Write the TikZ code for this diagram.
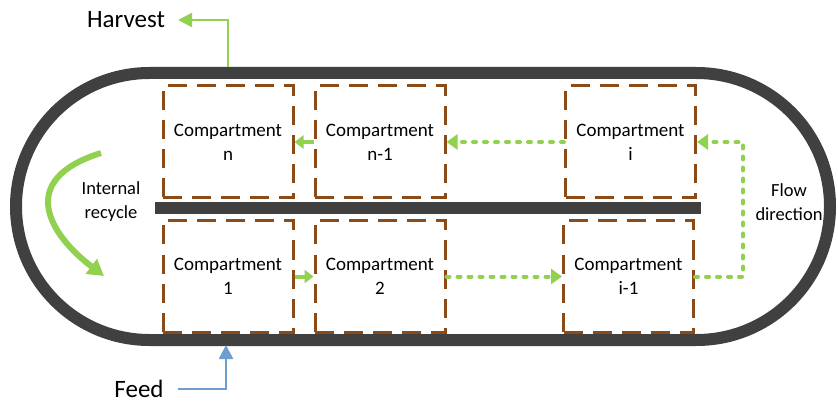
\documentclass[tikz,border=0pt]{standalone}
\usepackage{fontspec}
\setmainfont{Carlito}
\usetikzlibrary{arrows.meta}
\definecolor{tankgrey}{RGB}{64,64,64}
\definecolor{wallbrown}{RGB}{140,75,22}
\definecolor{flowgreen}{RGB}{146,208,80}
\definecolor{feedblue}{RGB}{110,158,206}
\begin{document}
\begin{tikzpicture}[x=1pt, y=-1pt,
    comp/.style={draw=wallbrown, line width=3pt, dash pattern=on 19pt off 10pt,
      minimum width=130pt, minimum height=112pt, align=center,
      font=\fontsize{19}{24}\selectfont},
    lbl/.style={align=center, font=\fontsize{18.5}{24}\selectfont},
    big/.style={font=\fontsize{25}{30}\selectfont},
    stepflow/.style={flowgreen, line width=4pt, -{Triangle[length=9pt,width=13pt]}},
    dotflow/.style={flowgreen, line width=4pt, line cap=round, dash pattern=on 3pt off 8pt,
      -{Triangle[length=11pt,width=15pt]}}]
      \useasboundingbox (0, 0) rectangle (838, 406) ;
    %--- Reactor
      \draw[tankgrey, line width=12pt, rounded corners=133.5pt] (16, 73) rectangle (830, 340) ;
      \fill[tankgrey] (155, 202) rectangle (701, 214) ;
    %--- Compartments
      \node[comp] (cn)   at (228, 142)   {Compartment\\n} ;
      \node[comp] (cnm)  at (380, 142)   {Compartment\\n-1} ;
      \node[comp] (ci)   at (630.5, 142) {Compartment\\i} ;
      \node[comp] (c1)   at (228, 276.5) {Compartment\\1} ;
      \node[comp] (c2)   at (380, 276.5) {Compartment\\2} ;
      \node[comp] (cim)  at (628.5, 276.5) {Compartment\\i-1} ;
    %--- Labels
      \node[big, inner xsep=13pt] (harvest) at (126, 20) {Harvest} ;
      \node[big, inner xsep=14pt] (feed) at (139, 389) {Feed} ;
      \node[lbl] (recycle) at (111, 202) {Internal\\recycle} ;
      \node[lbl] (flowdir) at (789, 202) {Flow\\direction} ;
      \coordinate (harvestout) at (228, 67) ;
      \coordinate (feedin) at (226, 345) ;
      \coordinate (loop) at (743, 0) ;
      \coordinate (recyclein) at (101, 153) ;
      \coordinate (recycleout) at (104, 276) ;
    %--- Flows
      \draw[flowgreen, line width=2.5pt, -{Triangle[length=14pt,width=14pt]}]
         (harvestout) |- (harvest.east) ;
      \draw[feedblue, line width=2.5pt, -{Triangle[length=14pt,width=14pt]}]
         (feed.east) -| (feedin) ;
      \draw[stepflow] (c1.east) -- (c2.west) ;
      \draw[dotflow] (c2.east) -- (cim.west) ;
      \draw[dotflow] (cim.east) -- (cim.east -| loop) |- (ci.east) ;
      \draw[dotflow] (ci.west) -- (cnm.east) ;
      \draw[stepflow] (cnm.west) -- (cn.east) ;
      \draw[flowgreen, line width=6pt, -{Triangle[length=16pt,width=18pt]}]
         (recyclein) .. controls (15, 180) and (50, 235) .. (recycleout) ;
  \end{tikzpicture}
\end{document}
